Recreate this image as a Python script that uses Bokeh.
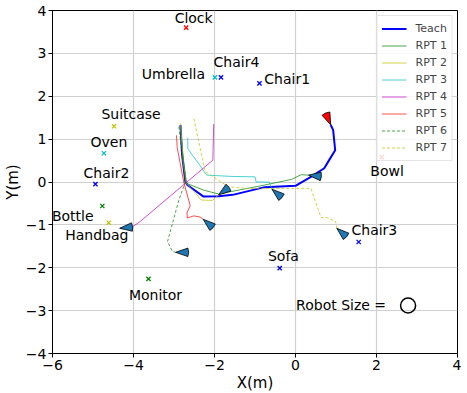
from bokeh.plotting import figure
from bokeh.models import FixedTicker
from bokeh.core.properties import value
from bokeh.embed import file_html
from bokeh.resources import INLINE

# ---------------- data ----------------
teach_x = [-2.84, -2.80, -2.72, -2.67, -2.27, -1.90, -1.55, -0.76, 0.0, 0.38, 0.71, 0.83, 0.98, 0.93, 0.87]
teach_y = [1.33, 0.63, 0.01, -0.07, -0.34, -0.33, -0.30, -0.12, -0.09, 0.12, 0.32, 0.51, 0.74, 1.21, 1.33]

rpt1_x = [-2.85, -2.76, -2.69, -2.27, -1.90, -1.57, -0.76, -0.10, 0.14, 0.32]
rpt1_y = [1.30, 0.47, -0.03, -0.19, -0.28, -0.22, -0.07, 0.06, 0.17, 0.16]

rpt2_x = [-2.84, -2.77, -2.70, -2.47, -2.33, -2.05, -1.90]
rpt2_y = [1.37, 0.45, -0.03, -0.26, -0.42, -0.43, -0.30]

rpt3_x = [-2.66, -2.66, -2.19, -1.57, -1.00, -0.97, -0.65, -0.58]
rpt3_y = [1.03, 0.78, 0.16, 0.13, 0.12, 0.00, 0.00, -0.17]

rpt4_x = [-2.02, -2.04, -3.86, -4.02, -4.34]
rpt4_y = [1.35, 0.51, -0.94, -1.04, -1.08]

rpt5_x = [-2.94, -2.92, -2.76, -2.60, -2.68, -2.67, -2.51, -2.35, -2.28]
rpt5_y = [1.09, 0.80, 0.00, -0.55, -0.72, -0.84, -0.79, -0.82, -0.87]

rpt6_x = [-2.88, -2.78, -2.72, -2.88, -3.16, -3.04, -2.96]
rpt6_y = [1.29, 0.50, 0.00, -0.42, -1.39, -1.62, -1.64]

rpt7_x = [-2.51, -2.23, -1.98, -1.66, -1.20, 0.38, 0.63, 0.79, 0.99, 1.02]
rpt7_y = [1.48, 0.24, 0.09, -0.11, -0.15, -0.15, -0.83, -0.83, -0.92, -1.08]

# final poses of the repeats (tip x, tip y, heading in degrees)
end_x = [0.32, -1.90, -0.58, -4.34, -2.28, -2.96, 1.02]
end_y = [0.16, -0.30, -0.17, -1.08, -0.87, -1.64, -1.08]
end_heading = [174, 216, 140, 186, 140, 180, 139]

goal_x = [0.87]
goal_y = [1.33]
goal_heading = [-67]

obj_names = ["Clock", "Umbrella", "Chair4", "Chair1", "Suitcase", "Oven", "Chair2",
             "Bottle", "Handbag", "Monitor", "Sofa", "Chair3", "Bowl"]
obj_x = [-2.70, -1.99, -1.84, -0.89, -4.48, -4.73, -4.94, -4.77, -4.61, -3.63, -0.39, 1.56, 2.13]
obj_y = [3.60, 2.44, 2.44, 2.30, 1.30, 0.67, -0.05, -0.56, -0.95, -2.26, -2.01, -1.40, 0.58]

robot_x = [2.78]
robot_y = [-2.88]

x_ticks = [-6, -4, -2, 0, 2, 4]
x_tick_labels = ["\u22126", "\u22124", "\u22122", "0", "2", "4"]
y_ticks = [-4, -3, -2, -1, 0, 1, 2, 3, 4]
y_tick_labels = ["\u22124", "\u22123", "\u22122", "\u22121", "0", "1", "2", "3", "4"]

# ---------------- styles ----------------
FONT = "DejaVu Sans"
obj_colors = ["#ff0000", "#00bfbf", "#0000ff", "#0000ff", "#bfbf00", "#00bfbf", "#0000ff",
              "#008000", "#bfbf00", "#008000", "#0000ff", "#0000ff", "#ff0000"]
lab_dx = [7.5, -41.5, 15.5, 27.7, 17, 5, 11, -29.6, -12, 7, 3.7, 15.7, 5.3]
lab_dy = [-10, -3, -15, -4, -12, -11, -11, 9.7, 12.3, 16.4, -12.3, -12.3, 13.4]

p = figure(frame_width=405, frame_height=343, x_range=(-6, 4), y_range=(-4, 4),
           output_backend="svg", toolbar_location=None,
           min_border_left=46, min_border_right=4, min_border_top=10, min_border_bottom=0)

p.outline_line_color = "black"
p.outline_line_width = 1
p.xgrid.grid_line_color = "#d0d0d0"
p.ygrid.grid_line_color = "#d0d0d0"
p.xgrid.grid_line_width = 1.2
p.ygrid.grid_line_width = 1.2

p.xaxis.ticker = FixedTicker(ticks=x_ticks)
p.yaxis.ticker = FixedTicker(ticks=y_ticks)
p.xaxis.major_label_overrides = {t: l for t, l in zip(x_ticks, x_tick_labels)}
p.yaxis.major_label_overrides = {t: l for t, l in zip(y_ticks, y_tick_labels)}
for ax in (p.xaxis, p.yaxis):
    ax.minor_tick_line_color = None
    ax.major_tick_out = 4
    ax.major_tick_in = 0
    ax.major_label_text_font = FONT
    ax.major_label_text_font_size = "14px"
    ax.major_label_text_color = "black"
    ax.axis_label_text_font = FONT
    ax.axis_label_text_font_size = "15px"
    ax.axis_label_text_font_style = "normal"
    ax.axis_label_text_color = "black"
    ax.axis_line_color = "black"
    ax.major_label_standoff = 2
    ax.axis_label_standoff = 1
p.xaxis.axis_label = "X(m)"
p.yaxis.axis_label = "Y(m)"

# paths
p.line(teach_x, teach_y, line_color="#0000ff", line_width=2, legend_label="Teach")
series = [
    ("RPT 1", rpt1_x, rpt1_y, "#008000", "solid"),
    ("RPT 2", rpt2_x, rpt2_y, "#bfbf00", "solid"),
    ("RPT 3", rpt3_x, rpt3_y, "#00bfbf", "solid"),
    ("RPT 4", rpt4_x, rpt4_y, "#bf00bf", "solid"),
    ("RPT 5", rpt5_x, rpt5_y, "#ff0000", "solid"),
    ("RPT 6", rpt6_x, rpt6_y, "#008000", "3 2"),
    ("RPT 7", rpt7_x, rpt7_y, "#bfbf00", "3 2"),
]
for name, xs, ys, col, dash in series:
    p.line(xs, ys, line_color=col, line_width=1, line_alpha=0.7,
           line_dash=dash, legend_label=name)

# pose arrows (narrow wedges, tip at the pose)
HALF = 19
p.wedge(x=end_x, y=end_y, radius=13, radius_units="screen",
        start_angle=[h + 180 - HALF for h in end_heading],
        end_angle=[h + 180 + HALF for h in end_heading],
        start_angle_units="deg", end_angle_units="deg",
        fill_color="#1f77b4", line_color="black", line_width=0.8)
p.wedge(x=goal_x, y=goal_y, radius=13, radius_units="screen",
        start_angle=[h + 180 - HALF for h in goal_heading],
        end_angle=[h + 180 + HALF for h in goal_heading],
        start_angle_units="deg", end_angle_units="deg",
        fill_color="#ff0000", line_color="black", line_width=0.8)

# objects
p.scatter(obj_x, obj_y, marker="x", size=6, line_width=1.3, line_color=obj_colors)
p.text(obj_x, obj_y, text=obj_names, x_offset=lab_dx, y_offset=lab_dy,
       text_align="center", text_baseline="middle",
       text_font=value(FONT), text_font_size="14px", text_color="black")

# robot size
p.scatter(robot_x, robot_y, marker="circle", size=15, fill_color=None,
          line_color="black", line_width=1.5)
p.text(robot_x, robot_y, text=["Robot Size ="], x_offset=-22, y_offset=0,
       text_align="right", text_baseline="middle",
       text_font=value(FONT), text_font_size="14px", text_color="black")

lg = p.legend[0]
lg.location = "top_right"
lg.margin = 5
lg.padding = 4
lg.spacing = 0
lg.label_text_font = FONT
lg.label_text_font_size = "11px"
lg.label_height = 17
lg.glyph_height = 17
lg.glyph_width = 25
lg.label_standoff = 9
lg.border_line_color = "#cccccc"
lg.background_fill_alpha = 0.85

open("out.html", "w").write(file_html(p, INLINE))
